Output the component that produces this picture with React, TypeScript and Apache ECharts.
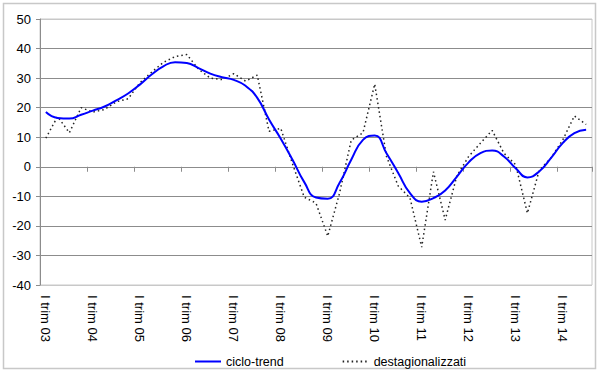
import React, { useEffect, useRef } from "react";
import * as echarts from "echarts";

const years = ["03", "04", "05", "06", "07", "08", "09", "10", "11", "12", "13", "14"];
const quarters = ["I", "II", "III", "IV"];
const pointCount = 47;

const categories: string[] = [];
years.forEach((y) => quarters.forEach((q) => categories.push(`${q} trim ${y}`)));
const xLabels = categories.slice(0, pointCount);

const cicloTrend = [
  18.5, 16.5, 16.3, 17.6, 19.0, 20.4, 22.5, 24.8, 27.8, 31.2, 34.0, 35.4,
  35.1, 33.4, 31.5, 30.3, 29.4, 27.4, 23.3, 16.0, 9.5, 2.4, -5.2, -10.4,
  -10.8, -5.5, 2.4, 9.1, 10.6, 4.6, -2.1, -8.9, -11.8, -10.6, -8.0, -3.3,
  1.5, 4.6, 5.5, 3.5, -0.5, -3.6, -1.6, 2.9, 8.0, 11.4, 12.5,
];

const destagionalizzati = [
  9.7, 17.0, 11.5, 20.0, 18.5, 19.4, 22.0, 23.0, 28.4, 32.0, 35.3, 37.3,
  38.0, 33.0, 30.0, 29.5, 31.5, 29.0, 31.0, 12.0, 13.0, 1.0, -10.3, -12.3,
  -23.5, -9.0, 9.0, 11.5, 28.0, 3.5, -6.5, -10.5, -27.2, -1.7, -18.0, -3.0,
  3.5, 8.0, 12.3, 4.6, 0.7, -15.7, -1.3, 3.0, 9.0, 17.2, 14.3,
];

const yMin = -40;
const yMax = 50;
const yStep = 10;

const font = 'Arial, "Liberation Sans", sans-serif';

export default function App() {
  const ref = useRef<HTMLDivElement>(null);

  useEffect(() => {
    if (!ref.current) return;
    const chart = echarts.init(ref.current, undefined, { renderer: "svg" });
    const gridColors: string[] = [];
    for (let v = yMin; v <= yMax; v += yStep) {
      gridColors.push(v === yMin || v === yMax ? "#c8c8c8" : "#8c8c8c");
    }
    chart.setOption({
      animation: false,
      backgroundColor: "#ffffff",
      textStyle: { fontFamily: font },
      graphic: [
        {
          type: "rect",
          shape: { x: 3.5, y: 3.5, width: 592, height: 365 },
          style: { fill: "none", stroke: "#c8c8c8", lineWidth: 1.5 },
          silent: true,
        },
      ],
      grid: {
        left: 40,
        right: 8,
        top: 19,
        bottom: 87,
        show: true,
        borderColor: "#c8c8c8",
        borderWidth: 1,
        containLabel: false,
        outerBoundsMode: "none",
      },
      legend: {
        left: 189,
        top: 350,
        itemWidth: 26,
        itemHeight: 14,
        itemGap: 58,
        itemStyle: { opacity: 0 },
        textStyle: { fontSize: 12.5, color: "#000", fontFamily: font },
        data: [
          { name: "ciclo-trend" },
          { name: "destagionalizzati" },
        ],
      },
      xAxis: {
        type: "category",
        data: xLabels,
        boundaryGap: true,
        axisLine: { onZero: true, lineStyle: { color: "#8c8c8c", width: 1 } },
        axisTick: { show: true, interval: 3, length: 5, lineStyle: { color: "#8c8c8c" } },
        axisLabel: {
          interval: 3,
          rotate: -90,
          margin: 10,
          fontSize: 13,
          color: "#000",
          fontFamily: font,
        },
        splitLine: { show: false },
      },
      yAxis: {
        type: "value",
        min: yMin,
        max: yMax,
        interval: yStep,
        axisLine: { show: true, lineStyle: { color: "#8c8c8c", width: 1 } },
        axisTick: { show: true, length: 4, lineStyle: { color: "#8c8c8c" } },
        axisLabel: { fontSize: 13, color: "#000", margin: 9, fontFamily: font },
        splitLine: { show: true, lineStyle: { color: gridColors, width: 1 } },
      },
      series: [
        {
          name: "ciclo-trend",
          type: "line",
          data: cicloTrend,
          smooth: 0.5,
          showSymbol: false,
          symbol: "none",
          lineStyle: { color: "#0000ff", width: 2 },
          itemStyle: { color: "#0000ff" },
          z: 3,
        },
        {
          name: "destagionalizzati",
          type: "line",
          data: destagionalizzati,
          smooth: false,
          showSymbol: false,
          symbol: "none",
          lineStyle: { color: "#222222", width: 1.5, type: [1.5, 3] },
          itemStyle: { color: "#222222" },
          z: 2,
        },
      ],
    });
    return () => chart.dispose();
  }, []);

  return (
    <div
      ref={ref}
      style={{ position: "absolute", left: 0, top: 0, width: 600, height: 372 }}
    />
  );
}
